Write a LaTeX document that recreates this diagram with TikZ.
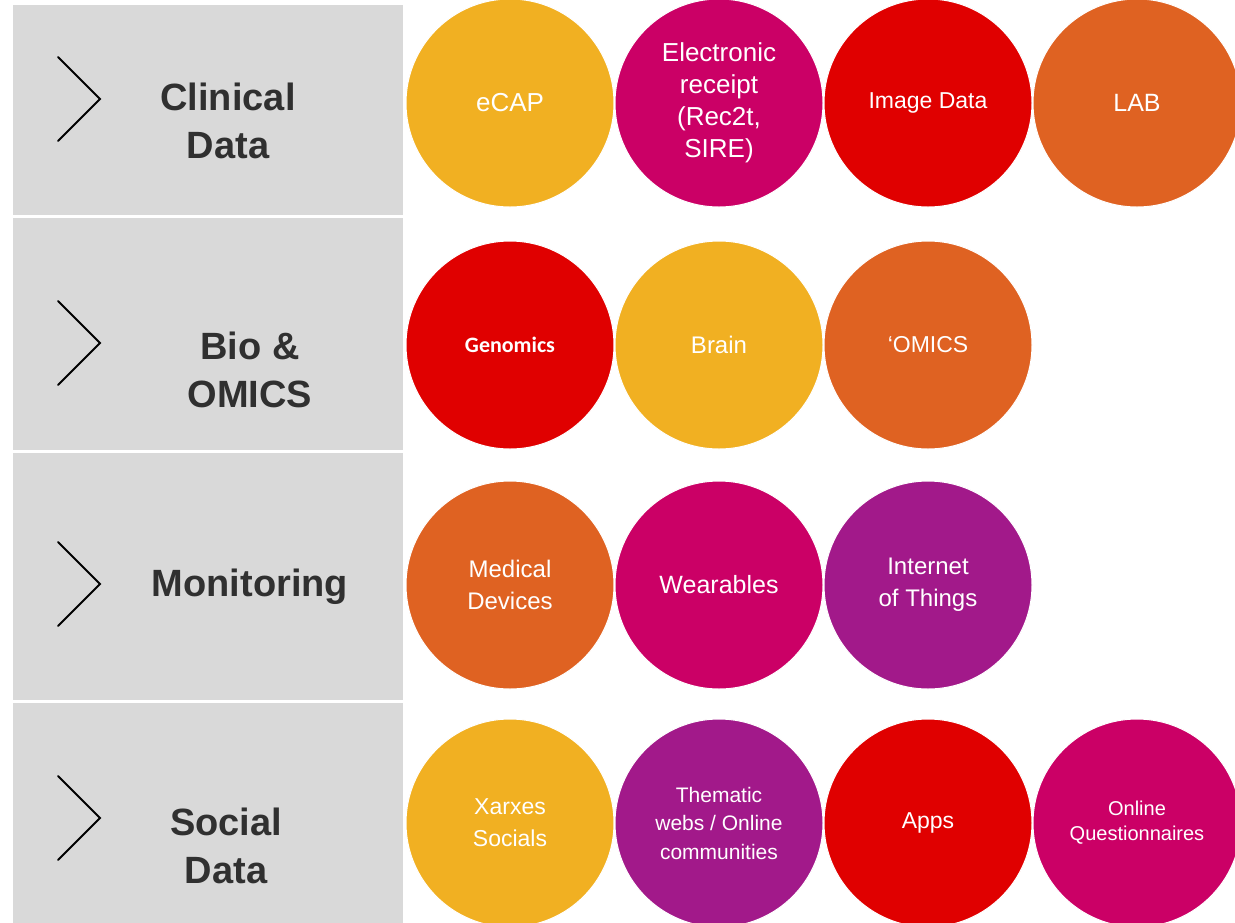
\documentclass[tikz,border=0pt]{standalone}
\usepackage{fontspec}
\setmainfont{Liberation Sans}
\newfontfamily\genfont{Carlito}
\usepackage{xcolor}
\usepackage{tikz}
\usetikzlibrary{positioning,shapes}

\definecolor{panelgray}{HTML}{D9D9D9}
\definecolor{titlegray}{HTML}{303030}
\definecolor{cyellow}{HTML}{F1B022}
\definecolor{cmagenta}{HTML}{CB0066}
\definecolor{cred}{HTML}{E00000}
\definecolor{corange}{HTML}{DF6222}
\definecolor{cpurple}{HTML}{A2198A}

\begin{document}
\begin{tikzpicture}[x=1pt, y=-1pt, node distance=209pt, inner sep=0pt,
  panel/.style={rectangle, fill=panelgray, minimum width=390pt},
  title/.style={font=\fontsize{38}{48}\selectfont\bfseries, text=titlegray, align=center},
  bubble/.style={circle, draw=white, line width=1pt, minimum size=208pt, text=white, align=center, font=\fontsize{24}{32}\selectfont},
  chev/.style={line width=2pt, line cap=round}]

\clip (0,0) rectangle (1235,922);
\fill[white] (0,0) rectangle (1235,922);

\node[panel, minimum height=210pt] (pclin) at (208,110) {};
\node[panel, minimum height=232pt] (pbio) at (208,334) {};
\node[panel, minimum height=247pt] (pmon) at (208,576.5) {};
\node[panel, minimum height=224pt] (psoc) at (208,815) {};

\node[title] (tclin) at (228,121) {Clinical\\Data};
\node[title] (tbio) at (250,370) {Bio \&\\OMICS};
\node[title] (tmon) at (250,587) {Monitoring};
\node[title] (tsoc) at (226,846) {Social\\Data};

\draw[chev] (58,57) -- (100,99) -- (58,141);
\draw[chev] (58,301) -- (100,343) -- (58,385);
\draw[chev] (58,542) -- (100,584) -- (58,626);
\draw[chev] (58,776) -- (100,818) -- (58,860);

\node[bubble, fill=cyellow, font=\fontsize{26}{32}\selectfont] (ecap) at (510,103) {eCAP};
\node[bubble, fill=cmagenta, font=\fontsize{26}{32}\selectfont] (erecipe) [right of=ecap] {Electronic\\receipt\\(Rec2t,\\SIRE)};
\node[bubble, fill=cred, font=\fontsize{23}{32}\selectfont] (image) [right of=erecipe] {Image Data};
\node[bubble, fill=corange, font=\fontsize{25}{32}\selectfont] (lab) [right of=image] {LAB};

\node[bubble, fill=cred, font=\fontsize{22}{32}\genfont\bfseries] (genom) at (510,345) {Genomics};
\node[bubble, fill=cyellow] (brain) [right of=genom] {Brain};
\node[bubble, fill=corange, font=\fontsize{23}{32}\selectfont] (omics) [right of=brain] {‘OMICS};

\node[bubble, fill=corange] (meddev) at (510,585) {Medical\\Devices};
\node[bubble, fill=cmagenta, font=\fontsize{25}{32}\selectfont] (wear) [right of=meddev] {Wearables};
\node[bubble, fill=cpurple] (iot) [right of=wear] {Internet\\of Things};

\node[bubble, fill=cyellow, font=\fontsize{23}{32}\selectfont] (xarxes) at (510,823) {Xarxes\\Socials};
\node[bubble, fill=cpurple, font=\fontsize{21}{28.5}\selectfont] (thema) [right of=xarxes] {Thematic\\webs / Online\\communities};
\node[bubble, fill=cred, font=\fontsize{23}{32}\selectfont] (apps) [right of=thema] {Apps};
\node[bubble, fill=cmagenta, font=\fontsize{20}{25}\selectfont] (quest) [right of=apps] {Online\\Questionnaires};

\end{tikzpicture}
\end{document}
